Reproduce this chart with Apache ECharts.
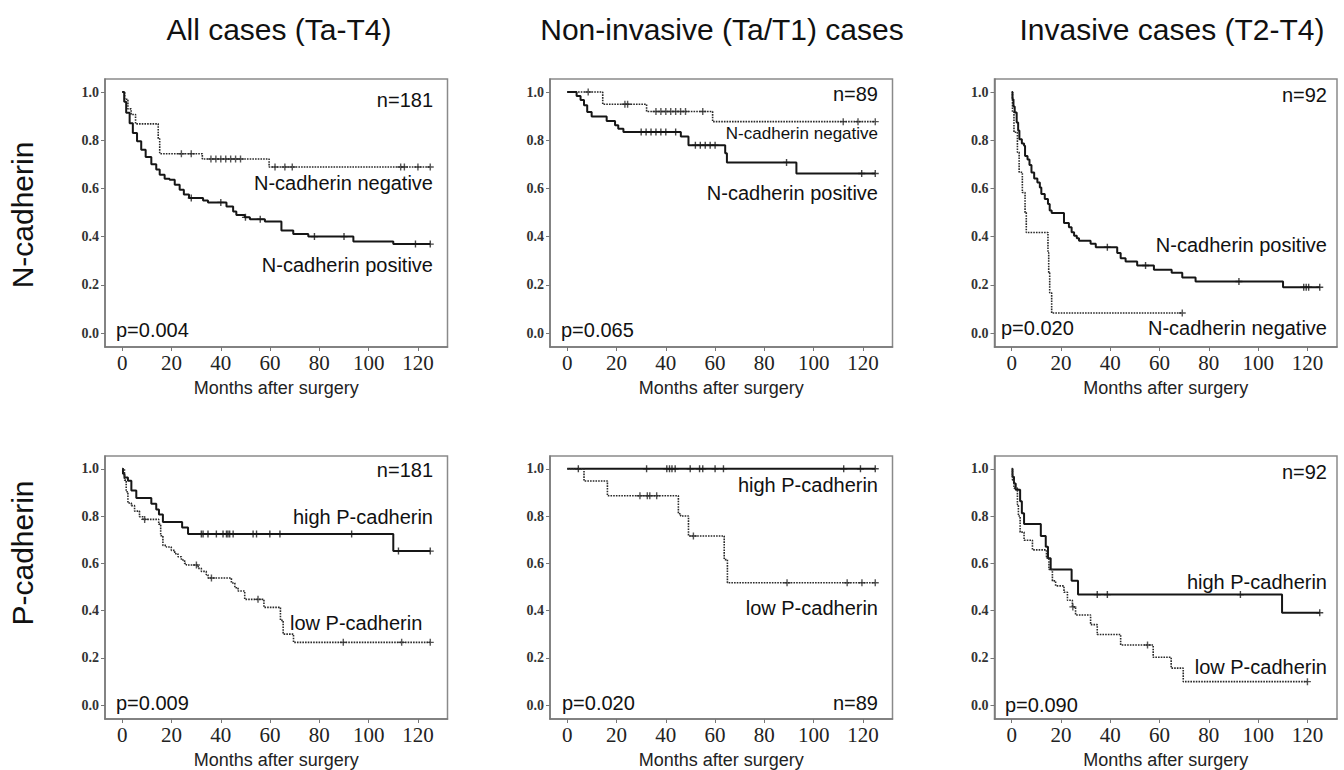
<!DOCTYPE html>
<html lang="en">
<head>
    <meta charset="UTF-8">
    <title>cadherin survival</title>
    <script src="https://cdn.jsdelivr.net/npm/echarts@6/dist/echarts.min.js"></script>
    <style>
        body { margin: 0; background: #fff; }
        #main { width: 1344px; height: 770px; }
    </style>
</head>
<body>
<div id="main"></div>
<script>
    // tick labels
    var xTicks = [0, 20, 40, 60, 80, 100, 120];
    var yTicks = [0, 0.2, 0.4, 0.6, 0.8, 1.0];

    // KM curves: [months, survival] at each step
    var allNeg = [[0, 1], [1, 0.97], [2.3, 0.93], [3.6, 0.907], [5.4, 0.868], [14.6, 0.806], [15.2, 0.744], [32.5, 0.722], [59.6, 0.689], [125, 0.689]];
    var allNegCens = [24, 28, 36, 38, 40, 42, 44, 46, 48, 62, 66, 69, 113, 114.5, 120, 125];
    var allPos = [[0, 1], [0.8, 0.96], [1.6, 0.914], [3.0, 0.87], [4.3, 0.83], [6.0, 0.796], [7.7, 0.76], [9.5, 0.73], [11.8, 0.70], [13.8, 0.678],
        [15.2, 0.657], [17.2, 0.64], [19.2, 0.636], [21.3, 0.615], [23.3, 0.594], [25, 0.575], [27.1, 0.56], [32.8, 0.55], [34.8, 0.542],
        [42.3, 0.525], [45, 0.504], [46.3, 0.49], [49.7, 0.48], [51.8, 0.472], [57.9, 0.463], [64.6, 0.425], [69.4, 0.411], [75.5, 0.40],
        [93.8, 0.38], [110, 0.369], [125, 0.369]];
    var allPosCens = [28, 40, 50, 56, 78, 90, 119, 125];

    var nonNeg = [[0, 1], [14.4, 0.949], [32.2, 0.919], [59, 0.877], [125, 0.877]];
    var nonNegCens = [8.5, 23.4, 24.5, 36, 38, 40, 42, 44, 46, 48, 55, 112, 118, 125];
    var nonPos = [[0, 1], [3.8, 0.983], [5.4, 0.967], [6.8, 0.945], [8.1, 0.917], [9.9, 0.898], [16, 0.88], [19.4, 0.862], [20.7, 0.848],
        [22.8, 0.834], [46.1, 0.815], [49.2, 0.779], [64.1, 0.746], [64.8, 0.708], [93, 0.662], [125, 0.662]];
    var nonPosCens = [30, 32, 34, 36, 38, 40, 44, 52, 54, 56, 58, 60, 89, 119.5, 125];

    var invNeg = [[0, 1], [0.3, 0.917], [0.9, 0.833], [2.3, 0.75], [3.0, 0.667], [4.3, 0.583], [5.4, 0.5], [5.9, 0.417], [14.7, 0.333],
        [15.0, 0.25], [15.4, 0.167], [16.2, 0.083], [69.2, 0.083]];
    var invNegCens = [69.2];
    var invPos = [[0, 1], [0.3, 0.97], [0.7, 0.94], [1.2, 0.915], [2.0, 0.873], [2.6, 0.84], [3.1, 0.804], [4.1, 0.786], [5.0, 0.777],
        [5.4, 0.735], [6.4, 0.72], [7.2, 0.697], [8.0, 0.666], [9.1, 0.641], [10.4, 0.625], [11.4, 0.604], [12.0, 0.577], [13.4, 0.556],
        [14.7, 0.535], [15.4, 0.508], [16.2, 0.498], [21.2, 0.457], [23.2, 0.439], [24.3, 0.418], [25.3, 0.404], [26.4, 0.393], [27.3, 0.383],
        [32.0, 0.37], [34.1, 0.356], [42.8, 0.332], [44.2, 0.31], [46.2, 0.297], [50.9, 0.28], [57.7, 0.263], [64.9, 0.25], [69.2, 0.23],
        [74.6, 0.214], [110.1, 0.19], [125, 0.19]];
    var invPosCens = [38.8, 54.3, 92.2, 118.5, 119.5, 120.5, 125];

    var allHigh = [[0, 1], [0.3, 0.979], [0.9, 0.963], [2.3, 0.949], [3.7, 0.908], [5.7, 0.876], [11.8, 0.852], [13.8, 0.828], [14.9, 0.807],
        [16.5, 0.775], [24.3, 0.752], [26.7, 0.724], [110, 0.652], [125, 0.652]];
    var allHighCens = [32.1, 32.8, 34.8, 38.2, 40.9, 42.3, 42.9, 43.6, 45, 53.1, 54.5, 59.9, 64, 93.1, 112.1, 125];
    var allLow = [[0, 1], [0.9, 0.952], [1.6, 0.903], [2.3, 0.855], [3.7, 0.844], [5.0, 0.821], [7.0, 0.797], [8.4, 0.786], [14.8, 0.766],
        [15.6, 0.717], [16.5, 0.676], [17.9, 0.669], [19.9, 0.655], [21.3, 0.641], [22.6, 0.628], [24, 0.614], [25.3, 0.6], [26, 0.593],
        [30.8, 0.579], [32.1, 0.566], [34.1, 0.552], [34.8, 0.538], [44.3, 0.517], [45.7, 0.497], [47, 0.483], [49.7, 0.448], [57.5, 0.414],
        [64.2, 0.359], [65.3, 0.301], [69.5, 0.266], [125, 0.266]];
    var allLowCens = [9.1, 30.1, 36.2, 55.1, 89.7, 113.4, 125];

    var nonHigh = [[0, 1], [125, 1]];
    var nonHighCens = [4.5, 32.2, 40.4, 41.5, 42.5, 43.8, 49.9, 53.7, 55, 60, 63.4, 112.2, 119, 125];
    var nonLow = [[0, 1], [6.8, 0.948], [16.3, 0.886], [45.1, 0.81], [46, 0.80], [49.2, 0.716], [63.7, 0.616], [65, 0.518], [125, 0.518]];
    var nonLowCens = [29.5, 32.5, 33.5, 36.3, 51.2, 89.2, 113.6, 119.6, 125];

    var invHigh = [[0, 1], [0.3, 0.966], [0.9, 0.938], [1.6, 0.911], [3.4, 0.863], [4.1, 0.812], [5.0, 0.766], [11.8, 0.716], [13.8, 0.67],
        [14.7, 0.622], [15.8, 0.574], [24.3, 0.527], [26.9, 0.468], [109.7, 0.391], [125, 0.391]];
    var invHighCens = [34.7, 38.8, 92.8, 125];
    var invLow = [[0, 1], [0.3, 0.952], [0.9, 0.918], [2.3, 0.849], [2.7, 0.80], [3.4, 0.732], [5.0, 0.698], [8.4, 0.657], [14.1, 0.622],
        [15.1, 0.574], [16.5, 0.526], [17.8, 0.505], [21.2, 0.478], [22.6, 0.444], [24.6, 0.416], [25.9, 0.382], [32.0, 0.341], [34.7, 0.299],
        [44.2, 0.255], [57.4, 0.203], [64.7, 0.157], [69.6, 0.10], [120, 0.10]];
    var invLowCens = [24.8, 55.1, 120];

    var colTitles = ['All cases (Ta-T4)', 'Non-invasive (Ta/T1) cases', 'Invasive cases (T2-T4)'];
    var rowTitles = ['N-cadherin', 'P-cadherin'];

    var myChart = echarts.init(document.getElementById('main'), null, {renderer: 'svg'});

    var gridLefts = [105, 550, 994.5];
    var gridTops = [79, 456];
    var solidColor = '#161616';
    var dotColor = '#2a2a2a';
    var serif = "'Liberation Serif', 'Times New Roman', serif";

    // survival value of a step curve at time t (for placing censor marks on the curve)
    function survAt(curve, t) {
        var v = curve[0][1];
        for (var i = 0; i < curve.length; i++) {
            if (curve[i][0] <= t) v = curve[i][1];
        }
        return v;
    }

    var grids = [], xAxes = [], yAxes = [], series = [];
    for (var r = 0; r < 2; r++) {
        for (var c = 0; c < 3; c++) {
            grids.push({
                left: gridLefts[c], top: gridTops[r], width: 342.5, height: 268,
                show: true, borderColor: '#8a8a8a', borderWidth: 1.5, backgroundColor: '#fff'
            });
            xAxes.push({
                type: 'value', gridIndex: grids.length - 1, min: -7, max: 132,
                name: 'Months after surgery', nameLocation: 'middle', nameGap: 32,
                nameTextStyle: {fontFamily: 'Liberation Sans', fontSize: 18, color: '#222'},
                splitLine: {show: false},
                axisLine: {show: true, onZero: false, lineStyle: {color: '#777', width: 1.5}},
                axisTick: {show: true, length: 4, customValues: xTicks, lineStyle: {color: '#777'}},
                axisLabel: {customValues: xTicks, margin: 5, fontFamily: serif, fontSize: 21, color: '#222'}
            });
            yAxes.push({
                type: 'value', gridIndex: grids.length - 1, min: -0.058, max: 1.054,
                splitLine: {show: false},
                axisLine: {show: true, onZero: false, lineStyle: {color: '#777', width: 1.5}},
                axisTick: {show: true, length: 4, customValues: yTicks, lineStyle: {color: '#777'}},
                axisLabel: {
                    customValues: yTicks, margin: 6, fontFamily: serif, fontSize: 14,
                    fontWeight: 'bold', color: '#333',
                    formatter: function (v) { return v.toFixed(1); }
                }
            });
        }
    }

    function addCurve(idx, curve, cens, dotted) {
        series.push({
            type: 'line', xAxisIndex: idx, yAxisIndex: idx, step: 'end',
            data: curve, showSymbol: false, silent: true,
            lineStyle: dotted ? {color: dotColor, width: 1.6, type: [1.6, 1.1]} : {color: solidColor, width: 2}
        });
        series.push({
            type: 'scatter', xAxisIndex: idx, yAxisIndex: idx, silent: true,
            data: cens.map(function (t) { return [t, survAt(curve, t)]; }),
            symbol: 'path://M4,0h2v10h-2z M0,4h10v2h-10z', symbolSize: 7,
            itemStyle: {color: dotted ? dotColor : solidColor}
        });
    }

    addCurve(0, allNeg, allNegCens, true);
    addCurve(0, allPos, allPosCens, false);
    addCurve(1, nonNeg, nonNegCens, true);
    addCurve(1, nonPos, nonPosCens, false);
    addCurve(2, invNeg, invNegCens, true);
    addCurve(2, invPos, invPosCens, false);
    addCurve(3, allHigh, allHighCens, false);
    addCurve(3, allLow, allLowCens, true);
    addCurve(4, nonHigh, nonHighCens, false);
    addCurve(4, nonLow, nonLowCens, true);
    addCurve(5, invHigh, invHighCens, false);
    addCurve(5, invLow, invLowCens, true);

    function txt(s, x, y, size, align, rot) {
        return {
            type: 'text', x: x, y: y, rotation: rot || 0, silent: true, z: 100,
            style: {
                text: s, x: 0, y: 0, fill: '#111',
                font: size + 'px "Liberation Sans", Arial, sans-serif',
                align: align, verticalAlign: 'middle',
                textAlign: align, textVerticalAlign: 'middle'
            }
        };
    }

    var labels = [
        txt(colTitles[0], 279, 29, 30, 'center'),
        txt(colTitles[1], 722, 29, 30, 'center'),
        txt(colTitles[2], 1172, 29, 30, 'center'),
        txt(rowTitles[0], 22, 215, 30, 'center', Math.PI / 2),
        txt(rowTitles[1], 22, 553, 30, 'center', Math.PI / 2),
        // top row
        txt('n=181', 433, 100, 20, 'right'),
        txt('N-cadherin negative', 433, 183, 20, 'right'),
        txt('N-cadherin positive', 433, 265, 20, 'right'),
        txt('p=0.004', 116, 330, 20, 'left'),
        txt('n=89', 878, 94, 20, 'right'),
        txt('N-cadherin negative', 878, 133, 17, 'right'),
        txt('N-cadherin positive', 878, 193, 20, 'right'),
        txt('p=0.065', 561, 330, 20, 'left'),
        txt('n=92', 1327, 95, 20, 'right'),
        txt('N-cadherin positive', 1327, 245, 20, 'right'),
        txt('N-cadherin negative', 1327, 328, 20, 'right'),
        txt('p=0.020', 1001, 328, 20, 'left'),
        // bottom row
        txt('n=181', 433, 470, 20, 'right'),
        txt('high P-cadherin', 433, 517, 20, 'right'),
        txt('low P-cadherin', 290, 623, 20, 'left'),
        txt('p=0.009', 116, 703, 20, 'left'),
        txt('high P-cadherin', 878, 485, 20, 'right'),
        txt('low P-cadherin', 878, 608, 20, 'right'),
        txt('p=0.020', 562, 703, 20, 'left'),
        txt('n=89', 878, 703, 20, 'right'),
        txt('n=92', 1327, 472, 20, 'right'),
        txt('high P-cadherin', 1327, 582, 20, 'right'),
        txt('low P-cadherin', 1327, 667, 20, 'right'),
        txt('p=0.090', 1005, 705, 20, 'left')
    ];

    var option = {
        animation: false,
        backgroundColor: '#fff',
        grid: grids,
        xAxis: xAxes,
        yAxis: yAxes,
        series: series,
        graphic: labels
    };
    myChart.setOption(option);
</script>
</body>
</html>
